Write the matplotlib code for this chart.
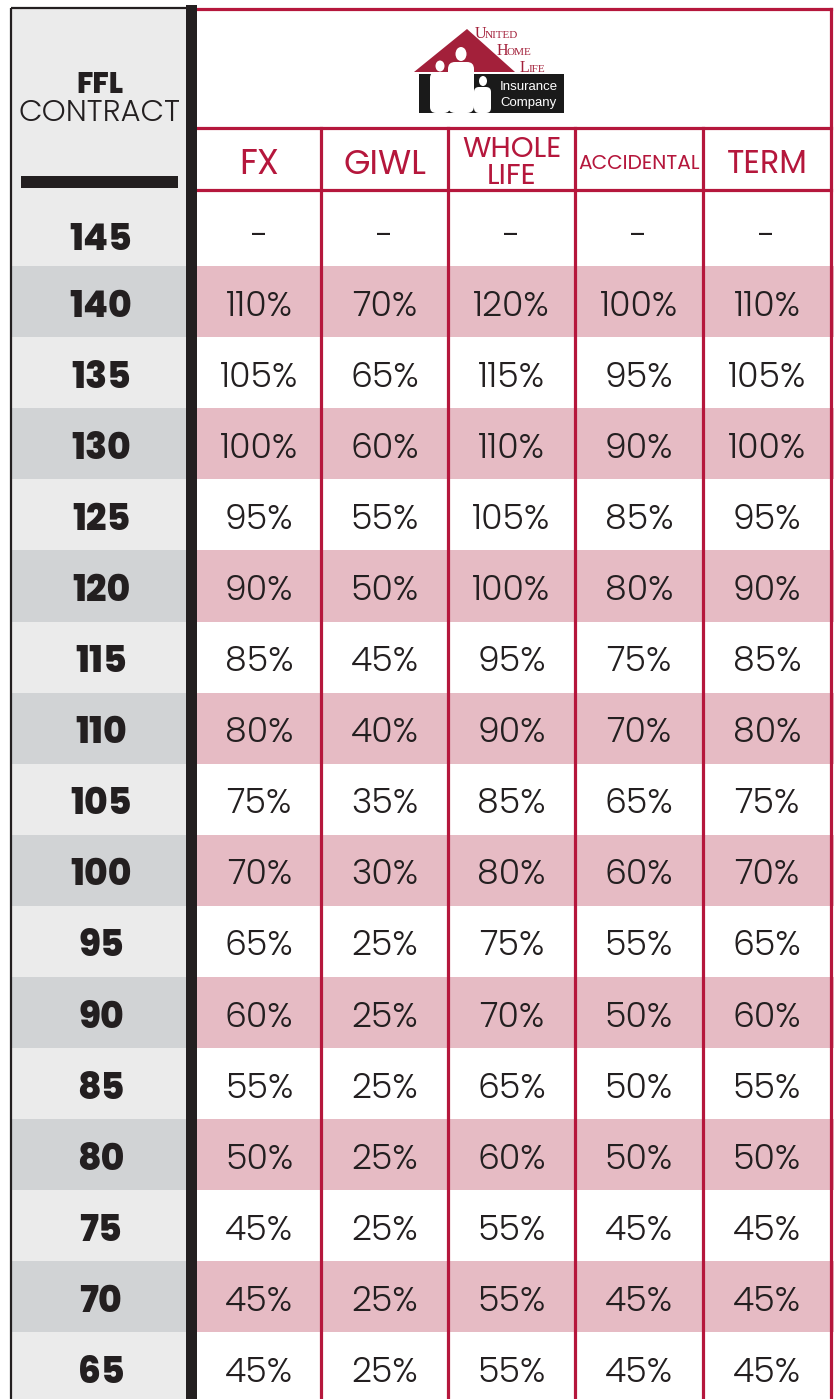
import matplotlib
matplotlib.use("Agg")
import matplotlib.pyplot as plt
from matplotlib.patches import Rectangle, Polygon, Ellipse, FancyBboxPatch

# ---------------- data ----------------
contracts = [145, 140, 135, 130, 125, 120, 115, 110, 105, 100, 95, 90, 85, 80, 75, 70, 65]
columns = ["FX", "GIWL", "WHOLE\nLIFE", "ACCIDENTAL", "TERM"]
fx = [None, 110, 105, 100, 95, 90, 85, 80, 75, 70, 65, 60, 55, 50, 45, 45, 45]
giwl = [None, 70, 65, 60, 55, 50, 45, 40, 35, 30, 25, 25, 25, 25, 25, 25, 25]
whole_life = [None, 120, 115, 110, 105, 100, 95, 90, 85, 80, 75, 70, 65, 60, 55, 55, 55]
accidental = [None, 100, 95, 90, 85, 80, 75, 70, 65, 60, 55, 50, 50, 50, 45, 45, 45]
term = [None, 110, 105, 100, 95, 90, 85, 80, 75, 70, 65, 60, 55, 50, 45, 45, 45]
series = [fx, giwl, whole_life, accidental, term]

# ---------------- style ----------------
RED = "#b5173c"
PINK = "#e6bbc4"
GRAY_L = "#ebebeb"
GRAY_D = "#d1d3d5"
INK = "#231f20"
FONT = ["Poppins", "DejaVu Sans"]

W, H = 834, 1399
fig = plt.figure(figsize=(W / 100, H / 100), dpi=100)
ax = fig.add_axes([0, 0, 1, 1])
ax.set_xlim(0, W)
ax.set_ylim(H, 0)
ax.axis("off")

# layout
col_edges = [197, 321.5, 448, 575, 703, 831]
row_h = 71.1
first_top = 266

def row_top(i):
    return first_top + (i - 1) * row_h

# backgrounds
ax.add_patch(Rectangle((11, 8), 186 - 11, H, facecolor=GRAY_L, edgecolor="none", zorder=0))
ax.add_patch(Rectangle((197, 8), W - 197, H, facecolor="white", edgecolor="none", zorder=0))

for i, c in enumerate(contracts):
    if i % 2 == 1:
        t = row_top(i)
        ax.add_patch(Rectangle((197, t), W - 197, row_h, facecolor=PINK, edgecolor="none", zorder=1))
        ax.add_patch(Rectangle((11, t), 186 - 11, row_h, facecolor=GRAY_D, edgecolor="none", zorder=1))

# left outline
ax.plot([11, 11], [8, H], color=INK, lw=1.6, zorder=3, solid_capstyle="butt")
ax.plot([11, 186], [8, 8], color=INK, lw=1.6, zorder=3, solid_capstyle="butt")
# black bar
ax.add_patch(Rectangle((186, 5), 11, H, facecolor=INK, edgecolor="none", zorder=4))

# red borders
lw = 2.3
ax.plot([197, 831], [9, 9], color=RED, lw=lw, zorder=3)
ax.plot([831, 831], [9, H], color=RED, lw=lw, zorder=3)
ax.plot([197, 831], [128, 128], color=RED, lw=lw, zorder=3)
ax.plot([197, 831], [190, 190], color=RED, lw=lw, zorder=3)
for x in col_edges[1:-1]:
    ax.plot([x, x], [128, H], color=RED, lw=lw, zorder=3)

# left header
ax.text(100, 93, "FFL", ha="center", va="baseline", fontsize=21, fontweight=800,
        color=INK, family=FONT, zorder=5)
ax.text(100, 121, "CONTRACT", ha="center", va="baseline", fontsize=22, fontweight=300,
        color=INK, family=FONT, zorder=5)
ax.add_patch(Rectangle((21, 176), 157, 12, facecolor=INK, edgecolor="none", zorder=5))

# column headers
centers = [(col_edges[k] + col_edges[k + 1]) / 2 for k in range(len(columns))]
hdr_sizes = [25.5, 24.5, 21, 14.5, 23]
for k, name in enumerate(columns):
    if "\n" in name:
        a, b = name.split("\n")
        ax.text(centers[k], 157, a, ha="center", va="baseline", fontsize=hdr_sizes[k],
                fontweight=400, color=RED, family=FONT, zorder=5)
        ax.text(centers[k], 184, b, ha="center", va="baseline", fontsize=hdr_sizes[k],
                fontweight=400, color=RED, family=FONT, zorder=5)
    else:
        cap = hdr_sizes[k] * 100 / 72 * 0.70
        ax.text(centers[k], 162 + cap / 2, name, ha="center", va="baseline",
                fontsize=hdr_sizes[k], fontweight=400, color=RED, family=FONT, zorder=5)

# rows
for i, c in enumerate(contracts):
    yc = 237 if i == 0 else row_top(i) + row_h / 2 + 2
    ax.text(101, yc + 13, str(c), ha="center", va="baseline", fontsize=26,
            fontweight=800, color=INK, family=FONT, zorder=5)
    for k, s in enumerate(series):
        v = s[i]
        if v is None:
            ax.text(centers[k], yc + 10, "-", ha="center", va="baseline", fontsize=24,
                    fontweight=300, color=INK, family=FONT, zorder=5)
        else:
            ax.text(centers[k], yc + 12, f"{v}%", ha="center", va="baseline", fontsize=25,
                    fontweight=300, color=INK, family=FONT, zorder=5)

# ---------------- logo ----------------
LRED = "#a3203a"
ax.add_patch(Polygon([(414, 72), (467, 29), (515, 72)], closed=True, facecolor=LRED,
                     edgecolor="none", zorder=5))
ax.add_patch(Rectangle((419, 74), 145, 39, facecolor="#1a1a1a", edgecolor="none", zorder=5))
# silhouettes
ax.add_patch(Ellipse((461, 54), 11, 14, facecolor="white", edgecolor="none", zorder=6))
ax.add_patch(FancyBboxPatch((448, 62), 26, 51, boxstyle="round,pad=0,rounding_size=7",
                            facecolor="white", edgecolor="none", zorder=6))
ax.add_patch(Ellipse((440, 66), 9, 11, facecolor="white", edgecolor="none", zorder=6))
ax.add_patch(FancyBboxPatch((430, 72), 20, 41, boxstyle="round,pad=0,rounding_size=6",
                            facecolor="white", edgecolor="none", zorder=6))
ax.add_patch(Ellipse((483, 81), 8, 10, facecolor="white", edgecolor="none", zorder=6))
ax.add_patch(FancyBboxPatch((474, 87), 17, 26, boxstyle="round,pad=0,rounding_size=5",
                            facecolor="white", edgecolor="none", zorder=6))
ax.text(529, 90, "Insurance", ha="center", va="baseline", fontsize=9.5, color="white",
        family=["Liberation Sans Narrow", "Liberation Sans"], zorder=7)
ax.text(529, 106, "Company", ha="center", va="baseline", fontsize=9.5, color="white",
        family=["Liberation Sans Narrow", "Liberation Sans"], zorder=7)
serif = ["Liberation Serif"]
for (x0, y0, big, rest, dx) in [(475, 38, "U", "NITED", 9.5), (497, 55, "H", "OME", 10),
                                (520, 72, "L", "IFE", 8.5)]:
    ax.text(x0, y0, big, ha="left", va="baseline", fontsize=11.5, color=LRED,
            family=serif, zorder=7)
    ax.text(x0 + dx, y0, rest, ha="left", va="baseline", fontsize=8, color=LRED,
            family=serif, zorder=7)

fig.savefig("out.png", dpi=100)
